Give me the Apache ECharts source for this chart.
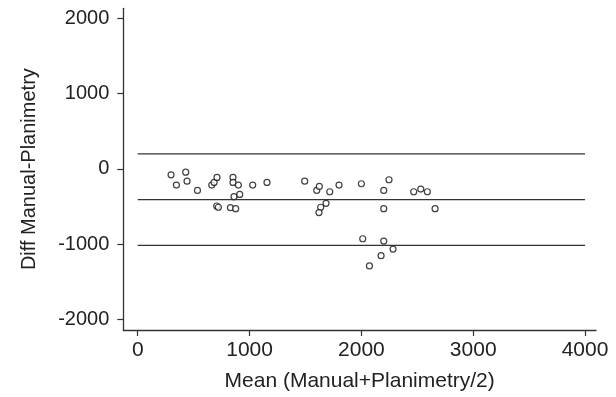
<!DOCTYPE html>
<html>
<head>
<meta charset="utf-8">
<script src="https://cdn.jsdelivr.net/npm/echarts@6/dist/echarts.min.js"></script>
<style>html,body{margin:0;padding:0;background:#fff}#c{width:616px;height:397px}</style>
</head>
<body>
<div id="c"></div>
<script>
// Data
var meanValues = [298, 346, 429, 441, 534, 662, 683, 709, 706, 721, 829, 852, 852, 861, 876, 900, 912, 1028, 1156,
  1493, 1601, 1624, 1636, 1621, 1684, 1717, 1800, 2000, 2012, 2072, 2176, 2200, 2200, 2200, 2247, 2283, 2468, 2531, 2590, 2659];
var diffValues = [-79, -216, -44, -163, -286, -216, -180, -114, -493, -510, -515, -114, -180, -370, -528, -216, -339, -216, -180,
  -163, -286, -233, -510, -581, -458, -304, -216, -198, -928, -1289, -1153, -286, -528, -959, -145, -1065, -304, -268, -304, -528];
var upperLimit = 198;
var meanDiff = -409;
var lowerLimit = -1016;
var lineStart = 0;
var lineEnd = 4000;
var xTicks = [0, 1000, 2000, 3000, 4000];
var yTicks = [-2000, -1000, 0, 1000, 2000];
var xRange = [-129, 4098];
var yRange = [-2139, 2131];
var xTitle = 'Mean (Manual+Planimetry/2)';
var yTitle = 'Diff Manual-Planimetry';

var points = meanValues.map(function (m, i) { return [m, diffValues[i]]; });
function hline(v) { return [[lineStart, v], [lineEnd, v]]; }
function plain(v) { return String(Math.round(v)); }

var font = 'Liberation Sans, Arial, Helvetica, sans-serif';
var ink = '#222';

var chart = echarts.init(document.getElementById('c'), null, { renderer: 'canvas' });
chart.setOption({
  animation: false,
  backgroundColor: '#fff',
  grid: { left: 123.3, right: 20, top: 8.3, bottom: 65.3, containLabel: false },
  xAxis: {
    type: 'value', min: xRange[0], max: xRange[1],
    name: xTitle, nameLocation: 'middle', nameGap: 41,
    nameTextStyle: { fontFamily: font, fontSize: 21, color: ink },
    axisLine: { onZero: false, lineStyle: { color: '#333', width: 1.3 } },
    axisTick: { show: true, length: 6, customValues: xTicks, lineStyle: { color: '#333', width: 1.2 } },
    axisLabel: { customValues: xTicks, formatter: plain, fontFamily: font, fontSize: 21, color: ink, margin: 10 },
    splitLine: { show: false }
  },
  yAxis: {
    type: 'value', min: yRange[0], max: yRange[1],
    name: yTitle, nameLocation: 'middle', nameGap: 84,
    nameTextStyle: { fontFamily: font, fontSize: 20, color: ink },
    axisLine: { show: true, onZero: false, lineStyle: { color: '#333', width: 1.3 } },
    axisTick: { show: true, length: 6, customValues: yTicks, lineStyle: { color: '#333', width: 1.2 } },
    axisLabel: { customValues: yTicks, formatter: plain, fontFamily: font, fontSize: 20, color: ink, margin: 14 },
    splitLine: { show: false }
  },
  series: [
    { type: 'line', data: hline(upperLimit), showSymbol: false, lineStyle: { color: '#333', width: 1.3 }, silent: true },
    { type: 'line', data: hline(meanDiff), showSymbol: false, lineStyle: { color: '#333', width: 1.3 }, silent: true },
    { type: 'line', data: hline(lowerLimit), showSymbol: false, lineStyle: { color: '#333', width: 1.3 }, silent: true },
    {
      type: 'scatter', data: points, symbol: 'circle', symbolSize: 6,
      itemStyle: { color: '#fff', borderColor: '#111', borderWidth: 1.2 }
    }
  ]
});
</script>
</body>
</html>
